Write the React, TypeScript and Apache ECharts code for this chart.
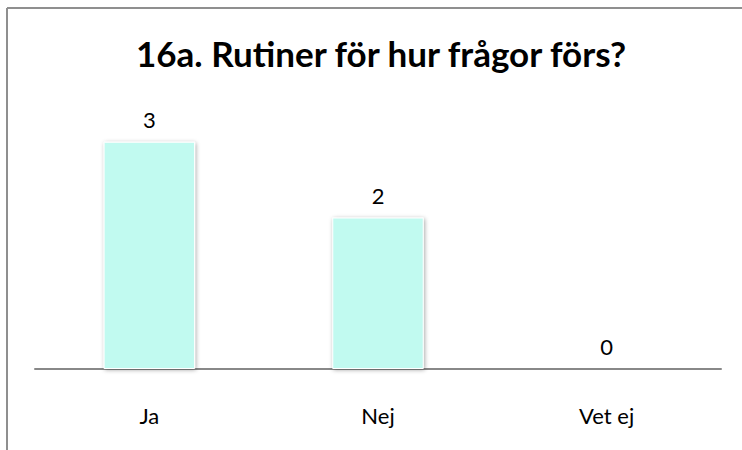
import React, { useEffect, useRef } from "react";
import * as echarts from "echarts";

const titleText = "16a. Rutiner för hur frågor förs?";
const categories = ["Ja", "Nej", "Vet ej"];
const values = [3, 2, 0];

export default function App() {
  const ref = useRef<HTMLDivElement>(null);
  useEffect(() => {
    if (!ref.current) return;
    const chart = echarts.init(ref.current, null, { renderer: "svg" });
    chart.setOption({
      animation: false,
      backgroundColor: "#ffffff",
      title: {
        text: titleText,
        left: 131,
        top: 30,
        textStyle: { fontFamily: "Lato", fontWeight: "bold", fontSize: 35, color: "#000" },
      },
      grid: { left: 35, right: 21, top: 66, bottom: 81 },
      xAxis: {
        type: "category",
        data: categories,
        axisLine: { lineStyle: { color: "#888", width: 2 } },
        axisTick: { show: false },
        axisLabel: { fontFamily: "Lato", fontSize: 22, color: "#000", margin: 35 },
      },
      yAxis: {
        type: "value",
        min: 0,
        max: 4,
        show: false,
        splitLine: { show: false },
      },
      graphic: [
        { type: "line", shape: { x1: 7, y1: 8, x2: 742, y2: 8 }, style: { stroke: "#8f8f8f", lineWidth: 2 } },
        { type: "line", shape: { x1: 7, y1: 8, x2: 7, y2: 450 }, style: { stroke: "#8f8f8f", lineWidth: 2 } },
      ],
      series: [
        {
          type: "bar",
          data: values,
          barWidth: "40%",
          itemStyle: {
            color: "#C1FAF0",
            borderColor: "#ffffff",
            borderWidth: 1,
            shadowBlur: 4,
            shadowColor: "rgba(0,0,0,0.35)",
            shadowOffsetX: 1,
            shadowOffsetY: 1,
          },
          label: {
            show: true,
            position: "top",
            distance: 11,
            fontFamily: "Lato",
            fontSize: 22,
            color: "#000",
          },
        },
      ],
    });
    return () => chart.dispose();
  }, []);
  return <div ref={ref} style={{ position: "fixed", left: 0, top: 0, width: 742, height: 450 }} />;
}
